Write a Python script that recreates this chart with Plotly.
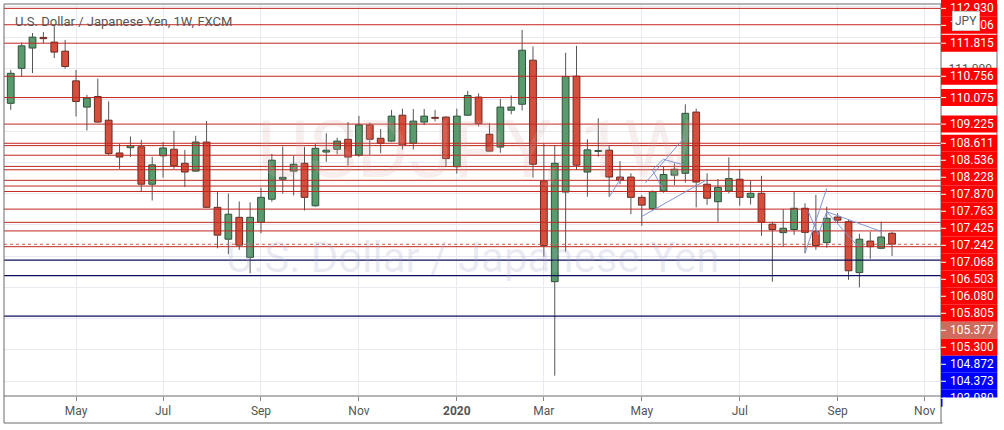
import pandas as pd
import plotly.graph_objects as go

# ---------------- data (weekly USD/JPY, FXCM) ----------------
start_date = "2019-03-25"
opens = [109.89, 111.01, 111.66, 112.00, 111.85, 111.56, 110.61, 109.77, 110.11, 109.35,
         108.30, 108.47, 108.50, 107.30, 108.21, 108.42, 107.97, 107.72, 108.65, 106.56,
         105.54, 106.24, 104.96, 106.08, 106.82, 107.46, 107.72, 107.97, 106.61, 108.33,
         108.42, 108.74, 108.23, 109.20, 108.77, 108.68, 109.51, 108.61, 109.29, 109.44,
         109.45, 107.86, 109.51, 110.09, 108.90, 108.49, 109.67, 109.86, 111.27, 107.41,
         104.18, 107.05, 110.76, 107.69, 108.35, 108.39, 107.53, 107.53, 106.88, 106.52,
         107.08, 107.59, 107.65, 109.61, 107.30, 106.74, 107.08, 107.46, 106.88, 107.01,
         106.02, 105.75, 105.85, 106.53, 105.78, 105.43, 106.25, 106.10, 104.47, 105.48,
         105.25, 105.73]
highs = [110.96, 111.83, 112.14, 112.17, 112.37, 111.92, 110.96, 110.16, 110.68, 109.95,
         108.59, 108.83, 108.72, 108.18, 108.65, 109.01, 108.40, 108.85, 109.33, 107.06,
         107.00, 106.75, 106.72, 107.19, 108.27, 108.51, 108.22, 108.50, 108.59, 108.93,
         108.79, 109.29, 109.49, 109.27, 109.07, 109.68, 109.72, 109.71, 109.71, 109.68,
         109.47, 109.72, 110.29, 110.21, 109.25, 110.03, 110.14, 112.24, 111.71, 108.59,
         108.54, 111.51, 111.73, 108.74, 109.41, 108.54, 108.04, 107.65, 106.95, 107.10,
         107.86, 107.97, 109.86, 109.72, 107.65, 107.47, 108.16, 107.78, 107.42, 107.57,
         106.10, 106.50, 107.05, 106.69, 106.96, 106.58, 106.37, 106.16, 105.71, 105.78,
         106.10, 105.78]
lows = [109.68, 110.75, 110.86, 111.82, 111.34, 111.00, 109.47, 109.02, 109.27, 108.24,
        107.79, 108.17, 107.05, 106.78, 107.51, 107.79, 107.21, 107.70, 106.54, 105.25,
        105.06, 105.20, 104.45, 105.73, 106.74, 107.00, 106.94, 106.46, 106.58, 108.02,
        108.26, 107.90, 108.18, 108.24, 108.29, 108.65, 108.41, 108.41, 109.19, 109.31,
        107.85, 107.64, 109.49, 109.15, 108.34, 108.31, 109.54, 109.66, 107.51, 104.98,
        101.17, 105.14, 107.76, 106.90, 108.18, 106.90, 107.30, 106.34, 105.97, 106.45,
        107.03, 107.27, 107.35, 106.56, 106.64, 106.10, 107.01, 106.61, 106.65, 105.65,
        104.18, 105.30, 105.68, 105.09, 105.20, 105.27, 106.05, 104.24, 104.00, 104.91,
        105.22, 105.00]
closes = [110.85, 111.73, 112.01, 111.96, 111.53, 111.07, 109.95, 110.06, 109.29, 108.28,
          108.17, 108.54, 107.30, 107.92, 108.46, 107.89, 107.69, 108.65, 106.56, 105.67,
          106.34, 105.35, 106.24, 106.88, 108.07, 107.52, 107.94, 106.88, 108.45, 108.39,
          108.68, 108.17, 109.20, 108.74, 108.61, 109.48, 108.56, 109.32, 109.48, 109.41,
          108.12, 109.48, 110.14, 109.24, 108.36, 109.77, 109.77, 111.59, 107.94, 105.34,
          107.97, 110.75, 107.91, 108.40, 108.38, 107.53, 107.43, 106.88, 106.63, 107.06,
          107.61, 107.78, 109.57, 107.37, 106.85, 107.20, 107.48, 106.88, 107.01, 106.08,
          105.85, 105.89, 106.53, 105.76, 105.34, 106.21, 106.15, 104.53, 105.54, 105.30,
          105.61, 105.38]
last_price = 105.377

red_levels = [112.930, 112.406, 111.815, 110.756, 110.075, 109.225, 108.611, 108.536,
              108.228, 107.870, 107.763, 107.425, 107.242, 107.068, 106.503, 106.080,
              105.805, 105.300]
blue_levels = [104.872, 104.373, 103.080]

# trend-line drawings: (bar index, price) pairs
drawings = [
    [(55.02, 106.90), (56.16, 107.54)],
    [(57.96, 106.26), (63.97, 107.44)],
    [(58.97, 107.76), (59.98, 108.10)],
    [(59.98, 108.10), (61.82, 107.92)],
    [(58.97, 107.76), (59.98, 107.12)],
    [(58.32, 107.34), (61.98, 108.82)],
    [(73.00, 105.09), (75.00, 107.17)],
    [(73.31, 106.42), (74.23, 105.68)],
    [(74.23, 105.68), (75.00, 106.42)],
    [(75.00, 106.42), (80.06, 105.78)],
    [(75.00, 106.42), (77.90, 105.30)],
]

title_text = "U.S. Dollar / Japanese Yen, 1W, FXCM"
wm_big = "USDJPY, 1W"
wm_small = "U.S. Dollar / Japanese Yen"

# ---------------- geometry ----------------
W, H = 1004, 430
ML, MR, MT, MB = 4, 63, 4, 34
PW, PH = W - ML - MR, H - MT - MB
YMIN, YMAX = 100.52, 113.07
XMIN, XMAX = -0.62, 85.5
FONT = "Roboto"

n = len(opens)
idx = list(range(n))

GREEN_F, GREEN_L = "#5a9b6e", "#2e4f39"
RED_F, RED_L = "#d64f3c", "#6e2a20"
WICK = "#555555"
GRID = "#e7eaf1"
FRAME = "#6a6a6a"

fig = go.Figure()

# wicks split around bodies
wx, wy = [], []
for i in idx:
    top = max(opens[i], closes[i])
    bot = min(opens[i], closes[i])
    wx += [i, i, None, i, i, None]
    wy += [highs[i], top, None, bot, lows[i], None]
fig.add_trace(go.Scatter(x=wx, y=wy, mode="lines", line=dict(color=WICK, width=1),
                         hoverinfo="skip", showlegend=False))

for up, fc, lc in [(True, GREEN_F, GREEN_L), (False, RED_F, RED_L)]:
    xs = [i for i in idx if (closes[i] >= opens[i]) == up]
    base = [min(opens[i], closes[i]) for i in xs]
    hgt = [max(abs(closes[i] - opens[i]), 0.015) for i in xs]
    fig.add_trace(go.Bar(x=xs, y=hgt, base=base, width=0.62,
                         marker=dict(color=fc, line=dict(color=lc, width=1)),
                         showlegend=False, hoverinfo="skip"))

shapes = []
for lv in red_levels:
    shapes.append(dict(type="line", xref="paper", x0=0, x1=1, yref="y", y0=lv, y1=lv,
                       line=dict(color="#c2261f", width=1)))
for lv in blue_levels:
    shapes.append(dict(type="line", xref="paper", x0=0, x1=1, yref="y", y0=lv, y1=lv,
                       line=dict(color="#0c0c5c", width=1.3)))
shapes.append(dict(type="line", xref="paper", x0=0, x1=1, yref="y", y0=last_price, y1=last_price,
                   line=dict(color="#d45a4a", width=1, dash="dot")))
for seg in drawings:
    (x0, y0), (x1, y1) = seg
    shapes.append(dict(type="line", xref="x", yref="y", x0=x0, y0=y0, x1=x1, y1=y1,
                       line=dict(color="#8093d6", width=1)))

# frame
px_x = lambda px: (px - ML) / PW
px_y = lambda py: (H - MB - py) / PH
RX = px_x(997)
BY = px_y(423)
for (a, b, c, d) in [(0, BY, 0, 1), (0, 1, RX, 1), (RX, 1, RX, BY), (0, BY, RX, BY),
                     (1, 1, 1, BY), (0, 0, RX, 0)]:
    shapes.append(dict(type="line", xref="paper", yref="paper", x0=a, y0=b, x1=c, y1=d,
                       line=dict(color=FRAME, width=1)))

# price labels with collision stacking
ppx = PH / (YMAX - YMIN)
price_to_px = lambda p: MT + (YMAX - p) * ppx
items = [(lv, "#ff0000") for lv in red_levels] + [(lv, "#0000ff") for lv in blue_levels] + \
        [(last_price, "#cd6b5c")]
items.sort(key=lambda t: -t[0])
LBL_H = 17
annotations = []
prev = None
label_boxes = []
for lv, col in items:
    ypx = price_to_px(lv)
    if prev is not None and ypx < prev + LBL_H:
        ypx = prev + LBL_H
    prev = ypx
    label_boxes.append((lv, col, ypx))
for lv, col, ypx in label_boxes:
    shapes.append(dict(type="rect", xref="paper", yref="paper", x0=1, x1=RX,
                       y0=px_y(ypx + LBL_H / 2), y1=px_y(ypx - LBL_H / 2),
                       fillcolor=col, line=dict(width=0)))
    shapes.append(dict(type="line", xref="paper", yref="paper", x0=1, x1=px_x(946),
                       y0=px_y(ypx), y1=px_y(ypx), line=dict(color="white", width=1)))
    annotations.append(dict(xref="paper", yref="paper", x=px_x(948), y=px_y(ypx),
                            xanchor="left", yanchor="middle", showarrow=False,
                            text=f"{lv:.3f}", font=dict(family=FONT, size=12, color="white")))

# y grid ticks: only show the tick labels not hidden behind label boxes
ytickvals = list(range(int(YMIN) + 1, int(YMAX) + 1))
yticktext = []
for v in ytickvals:
    probe = price_to_px(v) - 4
    covered = any(abs(probe - b[2]) <= LBL_H / 2 for b in label_boxes)
    yticktext.append("" if covered else f"{v:.3f}")

# mask of the price column under the plot
annotations.append(dict(xref="paper", yref="paper", x=px_x(941.5), y=px_y(396.6),
                        xanchor="left", yanchor="top", showarrow=False, text=" ",
                        width=55, height=26, bgcolor="white", borderpad=0))

# JPY badge
annotations.append(dict(xref="paper", yref="paper", x=px_x(966), y=px_y(21),
                        xanchor="center", yanchor="middle", showarrow=False, text="JPY",
                        font=dict(family=FONT, size=12, color="#555"), bgcolor="white",
                        bordercolor="#c8c8c8", borderwidth=1, borderpad=2))

# title and watermark
annotations.append(dict(xref="paper", yref="paper", x=px_x(13), y=px_y(21),
                        xanchor="left", yanchor="middle", showarrow=False, text=title_text,
                        font=dict(family=FONT, size=13, color="#555")))
annotations.append(dict(xref="paper", yref="paper", x=px_x(476), y=px_y(150),
                        xanchor="center", yanchor="middle", showarrow=False, text=wm_big,
                        font=dict(family=FONT, size=80, color="rgba(215,170,170,0.2)")))
annotations.append(dict(xref="paper", yref="paper", x=px_x(473), y=px_y(257),
                        xanchor="center", yanchor="middle", showarrow=False, text=wm_small,
                        font=dict(family=FONT, size=42, color="rgba(160,168,200,0.22)")))

# time axis ticks from dates
dates = pd.date_range(start_date, periods=90, freq="7D")
tickvals, ticktext = [], []
for i in range(1, len(dates)):
    if dates[i].month != dates[i - 1].month and dates[i].month % 2 == 1:
        if i > XMAX:
            break
        tickvals.append(i)
        ticktext.append(f"<b>{dates[i].year}</b>" if dates[i].month == 1 else dates[i].strftime("%b"))

fig.update_layout(
    width=W, height=H, margin=dict(l=ML, r=MR, t=MT, b=MB),
    paper_bgcolor="white", plot_bgcolor="white",
    barmode="overlay", showlegend=False,
    shapes=shapes, annotations=annotations,
    font=dict(family=FONT, color="#555"),
    xaxis=dict(range=[XMIN, XMAX], tickvals=tickvals, ticktext=ticktext,
               showgrid=True, gridcolor=GRID, gridwidth=1, zeroline=False,
               ticks="outside", ticklen=4, tickcolor="#888", showline=False,
               tickfont=dict(family=FONT, size=12, color="#555"), fixedrange=True),
    yaxis=dict(range=[YMIN, YMAX], side="right", tickvals=ytickvals, ticktext=yticktext,
               showgrid=True, gridcolor=GRID, gridwidth=1, zeroline=False,
               ticks="outside", ticklen=4, tickcolor="#888", showline=False,
               tickfont=dict(family=FONT, size=12, color="#555"), fixedrange=True),
)

fig.write_html("out.html", config={"displayModeBar": False},
               post_script="document.body.style.margin='0px';document.body.style.overflow='hidden';")
